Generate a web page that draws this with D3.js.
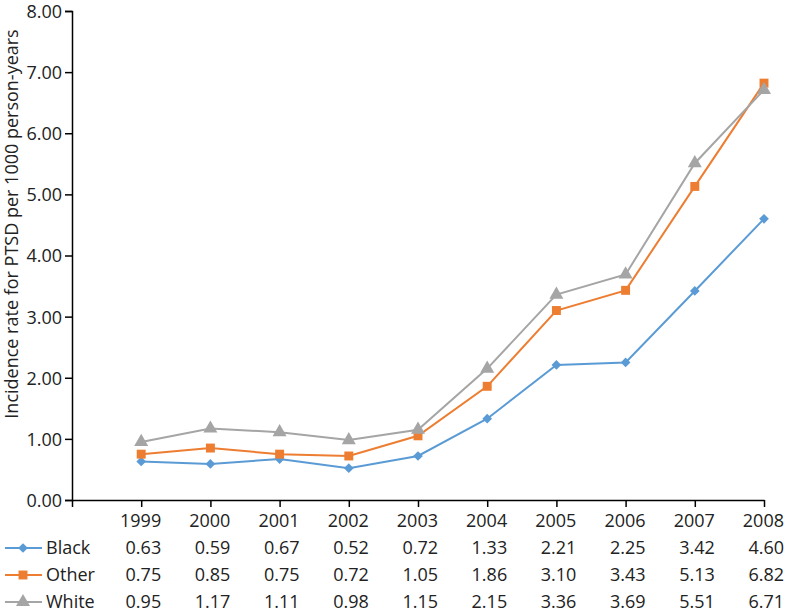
<!DOCTYPE html>
<html>
<head>
<meta charset="utf-8">
<script src="https://cdn.jsdelivr.net/npm/d3@7"></script>
<style>
body{margin:0;background:#fff;}
svg text{font-family:"Open Sans","Noto Sans",sans-serif;fill:#222;}
</style>
</head>
<body>
<div id="chart"></div>
<script>
const years = ["1999","2000","2001","2002","2003","2004","2005","2006","2007","2008"];
const black = [0.63,0.59,0.67,0.52,0.72,1.33,2.21,2.25,3.42,4.60];
const other = [0.75,0.85,0.75,0.72,1.05,1.86,3.10,3.43,5.13,6.82];
const white = [0.95,1.17,1.11,0.98,1.15,2.15,3.36,3.69,5.51,6.71];
const yTicks = [0,1,2,3,4,5,6,7,8];

const series = [
    {name:"Black", values:black, color:"#5b9bd5", symbol:d3.symbolDiamond2, size:60},
    {name:"Other", values:other, color:"#ed7d31", symbol:d3.symbolSquare, size:80},
    {name:"White", values:white, color:"#a5a5a5", symbol:d3.symbolTriangle, size:85}
];

const width = 787, height = 614;
const svg = d3.select("#chart").append("svg")
    .attr("width", width)
    .attr("height", height);

// x: index -1 sits on the y axis, categories at 0..9
const x = d3.scaleLinear().domain([-1, years.length-1]).range([72, 764]);
const y = d3.scaleLinear().domain([0, 8]).range([500, 11]);

const yAxis = svg.append("g")
    .attr("transform","translate(72,0)")
    .call(d3.axisLeft(y).tickValues(yTicks).tickFormat(d3.format(".2f")).tickSize(7).tickPadding(3));
yAxis.select(".domain").attr("stroke","#000").attr("stroke-width",1.5);
yAxis.selectAll(".tick line").attr("stroke","#000").attr("stroke-width",1.5);
yAxis.selectAll(".tick text").style("font-size","18px").attr("dy","0.36em");

const xAxis = svg.append("g")
    .attr("transform","translate(0,500)")
    .call(d3.axisBottom(x).tickValues(d3.range(-1, years.length)).tickFormat("").tickSize(7).tickSizeOuter(0));
xAxis.select(".domain").attr("stroke","#000").attr("stroke-width",1.5);
xAxis.selectAll(".tick line").attr("stroke","#000").attr("stroke-width",1.5);

svg.append("text")
    .attr("transform","translate(18,224) rotate(-90)")
    .attr("text-anchor","middle")
    .style("font-size","18px")
    .text("Incidence rate for PTSD per 1000 person-years");

const line = d3.line()
    .x((d,i)=>x(i))
    .y(d=>y(d));

const seriesG = svg.selectAll(".series")
    .data(series)
    .join("g")
    .attr("class","series");

seriesG.append("path")
    .attr("d", s=>line(s.values))
    .attr("fill","none")
    .attr("stroke", s=>s.color)
    .attr("stroke-width",2);

seriesG.selectAll(".marker")
    .data(s=>s.values.map((v,i)=>({v:v, i:i, s:s})))
    .join("path")
    .attr("class","marker")
    .attr("transform", d=>"translate(" + x(d.i) + "," + y(d.v) + ")")
    .attr("d", d=>d3.symbol().type(d.s.symbol).size(d.s.size)())
    .attr("fill", d=>d.s.color);

// data table below the chart
const rowY = [521, 548, 575, 602];
svg.selectAll(".yearLabel")
    .data(years)
    .join("text")
    .attr("class","yearLabel")
    .attr("x",(d,i)=>x(i) + 20)
    .attr("y", rowY[0])
    .attr("dy","0.35em")
    .attr("text-anchor","end")
    .style("font-size","18px")
    .text(d=>d);

const rowG = svg.selectAll(".tableRow")
    .data(series)
    .join("g")
    .attr("class","tableRow")
    .attr("transform",(s,i)=>"translate(0," + rowY[i+1] + ")");

rowG.append("line")
    .attr("x1",5).attr("x2",42)
    .attr("stroke", s=>s.color)
    .attr("stroke-width",2);
rowG.append("path")
    .attr("transform","translate(23,0)")
    .attr("d", s=>d3.symbol().type(s.symbol).size(s.size)())
    .attr("fill", s=>s.color);
rowG.append("text")
    .attr("x",46)
    .attr("dy","0.35em")
    .style("font-size","18px")
    .text(s=>s.name);
rowG.selectAll(".cell")
    .data(s=>s.values)
    .join("text")
    .attr("class","cell")
    .attr("x",(d,i)=>x(i) + 20)
    .attr("dy","0.35em")
    .attr("text-anchor","end")
    .style("font-size","18px")
    .text(d=>d.toFixed(2));
</script>
</body>
</html>
